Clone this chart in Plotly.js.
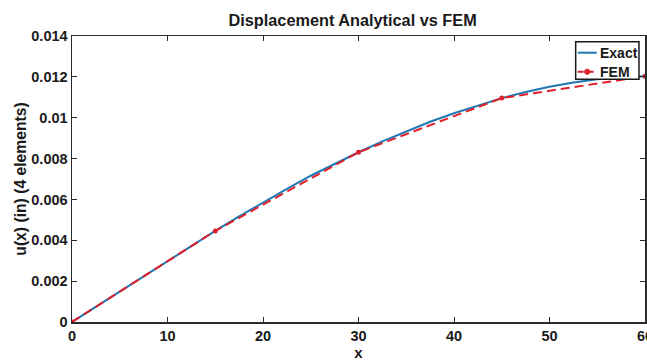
<!DOCTYPE html>
<html>
<head>
<meta charset="utf-8">
<script src="https://cdn.plot.ly/plotly-3.0.1.min.js"></script>
<style>html,body{margin:0;padding:0;background:#fff;}#chart{width:647px;height:363px;}</style>
</head>
<body>
<div id="chart"></div>
<script>
// Exact (analytical) curve
const exactX = [0, 2.5, 5, 7.5, 10, 12.5, 15, 17.5, 20, 22.5, 25, 27.5, 30, 32.5, 35, 37.5, 40, 42.5, 45, 47.5, 50, 52.5, 55, 57.5, 60];
const exactU = [0, 0.00075, 0.00150, 0.00225, 0.00300, 0.00374, 0.00446, 0.00517, 0.00586, 0.00652, 0.00716, 0.00775, 0.00831, 0.00884, 0.00934, 0.00980, 0.01022, 0.01060, 0.01096, 0.01126, 0.01152, 0.01172, 0.01188, 0.01198, 0.01203];
// FEM nodal values (4 elements)
const femX = [0, 15, 30, 45, 60];
const femU = [0, 0.00446, 0.00831, 0.01096, 0.01203];
const yTicks = [0, 0.002, 0.004, 0.006, 0.008, 0.01, 0.012, 0.014];
const yTickText = ['0', '0.002', '0.004', '0.006', '0.008', '0.01', '0.012', '0.014'];
const xTicks = [0, 10, 20, 30, 40, 50, 60];
const seriesNames = ['Exact', 'FEM'];

const F = '"Liberation Sans", Arial, sans-serif';
const INK = '#1a1a1a';
const BLUE = '#1f77b4';
const RED = '#e0202a';
const traces = [
  {x: exactX, y: exactU, name: seriesNames[0], mode: 'lines', line: {color: BLUE, width: 2}},
  {x: femX, y: femU, name: seriesNames[1], mode: 'lines+markers', line: {color: RED, width: 2, dash: '9px,5px'},
   marker: {color: RED, size: 5, symbol: 'circle'}}
];
const axisCommon = {
  showline: true, linecolor: '#2a2a2a', linewidth: 1.5, mirror: 'ticks',
  ticks: 'inside', ticklen: 5, tickcolor: '#2a2a2a', showgrid: false, zeroline: false,
  ticklabeloverflow: 'allow',
  tickfont: {family: F, size: 14.5, color: INK, weight: 'bold'}
};

// Legend drawn in paper coordinates (box, samples, labels)
const lx0 = 0.879, lx1 = 0.9895, ly0 = 0.8486, ly1 = 0.980;
const sx0 = 0.8825, sx1 = 0.9157, tx = 0.918;
const rowY = [0.9416, 0.875];
const shapes = [
  {type: 'rect', xref: 'paper', yref: 'paper', x0: lx0, x1: lx1, y0: ly0, y1: ly1,
   line: {color: INK, width: 1.5}, fillcolor: '#fff', layer: 'above'},
  {type: 'line', xref: 'paper', yref: 'paper', x0: sx0, x1: sx1, y0: rowY[0], y1: rowY[0],
   line: {color: BLUE, width: 2}, layer: 'above'},
  {type: 'line', xref: 'paper', yref: 'paper', x0: sx0, x1: sx1, y0: rowY[1], y1: rowY[1],
   line: {color: RED, width: 2, dash: '6px,4px'}, layer: 'above'},
  {type: 'circle', xref: 'paper', yref: 'paper', x0: (sx0 + sx1) / 2 - 0.0045, x1: (sx0 + sx1) / 2 + 0.0045,
   y0: rowY[1] - 0.009, y1: rowY[1] + 0.009, line: {color: RED, width: 1}, fillcolor: RED, layer: 'above'}
];
const annotations = seriesNames.map((n, i) => ({
  xref: 'paper', yref: 'paper', x: tx, y: rowY[i], xanchor: 'left', yanchor: 'middle',
  text: '<b>' + n + '</b>', showarrow: false, font: {family: F, size: 14, color: INK}
}));

const layout = {
  width: 647, height: 363,
  margin: {l: 72, r: 2, t: 36, b: 41},
  paper_bgcolor: '#fff', plot_bgcolor: '#fff',
  title: {text: '<b>Displacement Analytical vs FEM</b>', font: {family: F, size: 16.3, color: INK},
          x: 0.545, xanchor: 'center', y: 0.945, yanchor: 'middle', yref: 'container', xref: 'container'},
  xaxis: Object.assign({}, axisCommon, {range: [0, 60], tickvals: xTicks,
    title: {text: '<b>x</b>', font: {family: F, size: 15, color: INK}, standoff: 4}}),
  yaxis: Object.assign({}, axisCommon, {range: [0, 0.014], tickvals: yTicks, ticktext: yTickText,
    title: {text: '<b>u(x) (in) (4 elements)</b>', font: {family: F, size: 15.7, color: INK}, standoff: 1}}),
  showlegend: false,
  shapes: shapes,
  annotations: annotations
};
Plotly.newPlot('chart', traces, layout, {displayModeBar: false, staticPlot: true});
</script>
</body>
</html>
